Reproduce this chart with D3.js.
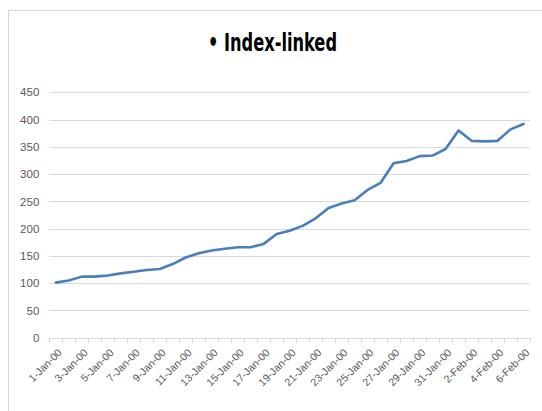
<!DOCTYPE html>
<html>
<head>
<meta charset="utf-8">
<script src="https://cdn.jsdelivr.net/npm/d3@7"></script>
<style>
  html, body { margin: 0; padding: 0; background: #fff; }
  svg { display: block; }
</style>
</head>
<body>
<svg id="chart" width="542" height="411"></svg>
<script>
// Daily index values, 1-Jan-00 through 6-Feb-00
const dates = [
  "1-Jan-00","2-Jan-00","3-Jan-00","4-Jan-00","5-Jan-00","6-Jan-00","7-Jan-00","8-Jan-00",
  "9-Jan-00","10-Jan-00","11-Jan-00","12-Jan-00","13-Jan-00","14-Jan-00","15-Jan-00","16-Jan-00",
  "17-Jan-00","18-Jan-00","19-Jan-00","20-Jan-00","21-Jan-00","22-Jan-00","23-Jan-00","24-Jan-00",
  "25-Jan-00","26-Jan-00","27-Jan-00","28-Jan-00","29-Jan-00","30-Jan-00","31-Jan-00","1-Feb-00",
  "2-Feb-00","3-Feb-00","4-Feb-00","5-Feb-00","6-Feb-00"
];
const values = [
  101, 105, 112, 112, 114, 118, 121, 124,
  126, 135, 147, 155, 160, 163, 166, 166,
  172, 190, 196, 205, 219, 238, 246, 252,
  271, 284, 320, 324, 333, 334, 346, 380,
  361, 360, 361, 382, 392
];
const yTicks = [0, 50, 100, 150, 200, 250, 300, 350, 400, 450];
const title = "• Index-linked";

const font = "'Liberation Sans', Arial, sans-serif";
const svg = d3.select("#chart");

// outer chart frame
svg.append("rect")
  .attr("x", 8.5).attr("y", 10.5)
  .attr("width", 560).attr("height", 420)
  .attr("fill", "#fff").attr("stroke", "#d9d9d9").attr("stroke-width", 1);

const plot = { left: 49.3, right: 530, top: 92.3, bottom: 337.7 };

const x = d3.scaleBand().domain(dates).range([plot.left, plot.right]);
const y = d3.scaleLinear().domain([0, 450]).range([plot.bottom, plot.top]);

// title
svg.append("text")
  .attr("x", 208).attr("y", 51)
  .attr("font-family", "'DejaVu Sans Condensed', 'Liberation Sans', sans-serif")
  .attr("font-weight", "bold")
  .attr("font-size", 24)
  .attr("textLength", 129)
  .attr("lengthAdjust", "spacingAndGlyphs")
  .attr("fill", "#000")
  .text(title);

// horizontal gridlines
svg.append("g")
  .selectAll("line")
  .data(yTicks.filter(d => d > 0))
  .join("line")
  .attr("x1", plot.left).attr("x2", plot.right)
  .attr("y1", d => Math.round(y(d)) + 0.5).attr("y2", d => Math.round(y(d)) + 0.5)
  .attr("stroke", "#d9d9d9").attr("stroke-width", 1);

// y axis labels
const yAxis = d3.axisLeft(y).tickValues(yTicks).tickSize(0).tickPadding(10);
const gy = svg.append("g").attr("transform", `translate(${plot.left},0)`).call(yAxis);
gy.select(".domain").remove();
gy.selectAll("text")
  .attr("font-family", font)
  .attr("font-size", 11.5)
  .attr("fill", "#595959");

// category axis with boundary tick marks
const boundaries = d3.range(dates.length + 1).map(i => plot.left + i * x.step());
const gx = svg.append("g");
gx.append("line")
  .attr("x1", plot.left).attr("x2", plot.right)
  .attr("y1", Math.round(plot.bottom) + 0.5).attr("y2", Math.round(plot.bottom) + 0.5)
  .attr("stroke", "#d9d9d9");
gx.selectAll("line.tick")
  .data(boundaries)
  .join("line")
  .attr("class", "tick")
  .attr("x1", d => Math.round(d) + 0.5).attr("x2", d => Math.round(d) + 0.5)
  .attr("y1", Math.round(plot.bottom)).attr("y2", Math.round(plot.bottom) + 5)
  .attr("stroke", "#d9d9d9");

// rotated date labels on every other day
gx.selectAll("text")
  .data(dates.filter((d, i) => i % 2 === 0))
  .join("text")
  .attr("transform", d => `translate(${x(d) + x.bandwidth() / 2 + 4},${plot.bottom + 13}) rotate(-45)`)
  .attr("text-anchor", "end")
  .attr("dy", "0.35em")
  .attr("font-family", font)
  .attr("font-size", 10.5)
  .attr("fill", "#595959")
  .text(d => d);

// series line
const line = d3.line()
  .x((d, i) => x(dates[i]) + x.bandwidth() / 2)
  .y(d => y(d));

svg.append("path")
  .datum(values)
  .attr("d", line)
  .attr("fill", "none")
  .attr("stroke", "#4a7ebb")
  .attr("stroke-width", 2.6)
  .attr("stroke-linejoin", "round")
  .attr("stroke-linecap", "round");
</script>
</body>
</html>
